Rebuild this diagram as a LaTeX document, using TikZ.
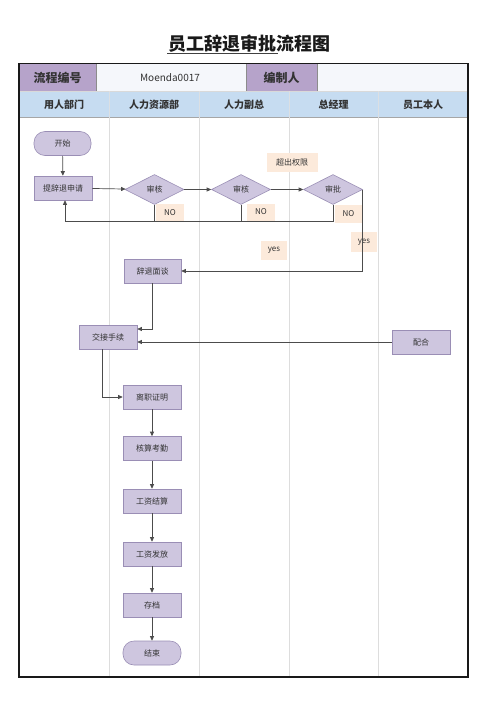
\documentclass[tikz,border=0pt]{standalone}
\usepackage{fontspec}
\setmainfont{Noto Sans CJK SC}
\usetikzlibrary{shapes.geometric,arrows.meta,calc}
\definecolor{nodefill}{HTML}{CEC6DF}
\definecolor{nodedraw}{HTML}{9A8EB5}
\definecolor{hdrpurple}{HTML}{B6A3CA}
\definecolor{hdrblue}{HTML}{C6DCF1}
\definecolor{cellwhite}{HTML}{F5F7FB}
\definecolor{lblfill}{HTML}{FCEADB}
\definecolor{lanegrey}{HTML}{DDDDDD}
\definecolor{txt}{HTML}{333333}
\tikzset{
  proc/.style={draw=nodedraw, fill=nodefill, line width=0.6pt, minimum width=57pt, minimum height=24pt, inner sep=0pt, font=\fontsize{8}{8}\selectfont, text=txt},
  term/.style={proc, rounded corners=11pt},
  dec/.style={diamond, draw=nodedraw, fill=nodefill, line width=0.6pt, minimum width=59pt, minimum height=30pt, inner sep=0pt, font=\fontsize{8}{8}\selectfont, text=txt},
  lbl/.style={fill=lblfill, inner sep=0pt, font=\fontsize{8}{8}\selectfont, text=txt},
  conn/.style={draw=black!70, line width=0.7pt, -{Triangle[length=4.5pt,width=4pt]}},
  plain/.style={draw=black!70, line width=0.7pt},
  cell/.style={draw=black!60, line width=0.4pt, inner sep=0pt},
  hdr/.style={font=\fontsize{10}{10}\selectfont\bfseries, text=txt},
}
\begin{document}
\begin{tikzpicture}[x=1pt,y=-1pt]
\useasboundingbox (0,0) rectangle (500,707);
\fill[white] (0,0) rectangle (500,707);
% title
\node[font=\fontsize{18}{18}\selectfont\bfseries, text=black!90] (title) at (249.5,44) {员工辞退审批流程图};
\draw[black!75, line width=1.2pt] (167,53.5) -- (277.5,53.5);
% row 1
\fill[hdrpurple] (19,63.5) rectangle (96,91);
\fill[cellwhite] (96,63.5) rectangle (246,91);
\fill[hdrpurple] (246,63.5) rectangle (317,91);
\fill[cellwhite] (317,63.5) rectangle (468,91);
\draw[black!45, line width=0.4pt] (96,63.5) -- (96,91) (246,63.5) -- (246,91) (317,63.5) -- (317,91);
\node[font=\fontsize{12}{12}\selectfont\bfseries, text=txt] (c1) at (57.5,77.5) {流程编号};
\node[font=\fontsize{10}{10}\selectfont, text=txt] (c2) at (170,77.5) {Moenda0017};
\node[font=\fontsize{12}{12}\selectfont\bfseries, text=txt] (c3) at (281.5,77.5) {编制人};
% row 2
\fill[hdrblue] (19,91) rectangle (468,117.5);
\draw[white!85!black, line width=0.5pt] (19,91) -- (468,91);
\draw[black!35, line width=0.6pt] (19,117.5) -- (468,117.5);
\foreach \x in {109,199,289,378} {
  \draw[white!80!hdrblue!90!black, line width=0.4pt] (\x,91) -- (\x,117.5);
  \draw[lanegrey, line width=0.8pt] (\x,117.5) -- (\x,677);
}
\node[hdr] (h1) at (64,104.5) {用人部门};
\node[hdr] (h2) at (154,104.5) {人力资源部};
\node[hdr] (h3) at (244,104.5) {人力副总};
\node[hdr] (h4) at (333.5,104.5) {总经理};
\node[hdr] (h5) at (423,104.5) {员工本人};
% frame
\draw[black!90, line width=1.5pt] (19,63.5) rectangle (468,677);
% nodes
\node[term] (start) at (62.5,143.5) {开始};
\node[proc, minimum width=58pt] (apply) at (63,188) {提辞退申请};
\node[dec] (d1) at (154.5,189.5) {审核};
\node[dec] (d2) at (241,189.5) {审核};
\node[dec] (d3) at (333,189.5) {审批};
\node[lbl, minimum width=28pt, minimum height=17pt] (no1) at (170,212.5) {NO};
\node[lbl, minimum width=28pt, minimum height=17pt] (no2) at (261,212) {NO};
\node[lbl, minimum width=27pt, minimum height=18pt] (no3) at (348.5,213.5) {NO};
\node[lbl, minimum width=51pt, minimum height=19pt] (over) at (292,162.5) {超出权限};
\node[lbl, minimum width=26pt, minimum height=19pt] (yes1) at (274,250.5) {yes};
\node[lbl, minimum width=26pt, minimum height=20pt] (yes2) at (364,242) {yes};
\node[proc] (talk) at (152.5,271) {辞退面谈};
\node[proc, minimum width=58pt] (hand) at (108,337) {交接手续};
\node[proc, minimum width=58pt] (coop) at (421,342) {配合};
\node[proc, minimum width=58pt] (cert) at (152,397) {离职证明};
\node[proc, minimum width=58pt] (att) at (152,448.5) {核算考勤};
\node[proc, minimum width=58pt] (sal) at (152,501) {工资结算};
\node[proc, minimum width=58pt] (pay) at (152,554) {工资发放};
\node[proc, minimum width=58pt] (arch) at (152,605) {存档};
\node[term, minimum width=58pt] (end) at (152,653) {结束};
% helper coordinates
\coordinate (loopL) at (65,221);
\coordinate (loopR) at (333,221);
% connectors
\draw[conn] (start) -- (apply);
\draw[conn] (apply) -- (d1);
\draw[conn] (d1) -- (d2);
\draw[conn] (d2) -- (d3);
\draw[plain] (d1.south) -- (d1.south |- loopL);
\draw[plain] (d2.south) -- (d2.south |- loopL);
\draw[conn] (d3.south) -- (loopR) -- (loopL) -- (apply.south -| loopL);
\draw[conn] (d3.east) -- (d3.east |- talk) -- (talk.east);
\draw[conn] (talk.south) -- ($(talk.south |- hand.east)+(0,-8)$) -- ($(hand.east)+(0,-8)$);
\draw[conn] (coop.west) -- (coop.west -| hand.east);
\draw[conn] ($(hand.south)+(-6,0)$) -- ($(hand.south |- cert.west)+(-6,0)$) -- (cert.west);
\draw[conn] (cert) -- (att);
\draw[conn] (att) -- (sal);
\draw[conn] (sal) -- (pay);
\draw[conn] (pay) -- (arch);
\draw[conn] (arch) -- (end);
\end{tikzpicture}
\end{document}
